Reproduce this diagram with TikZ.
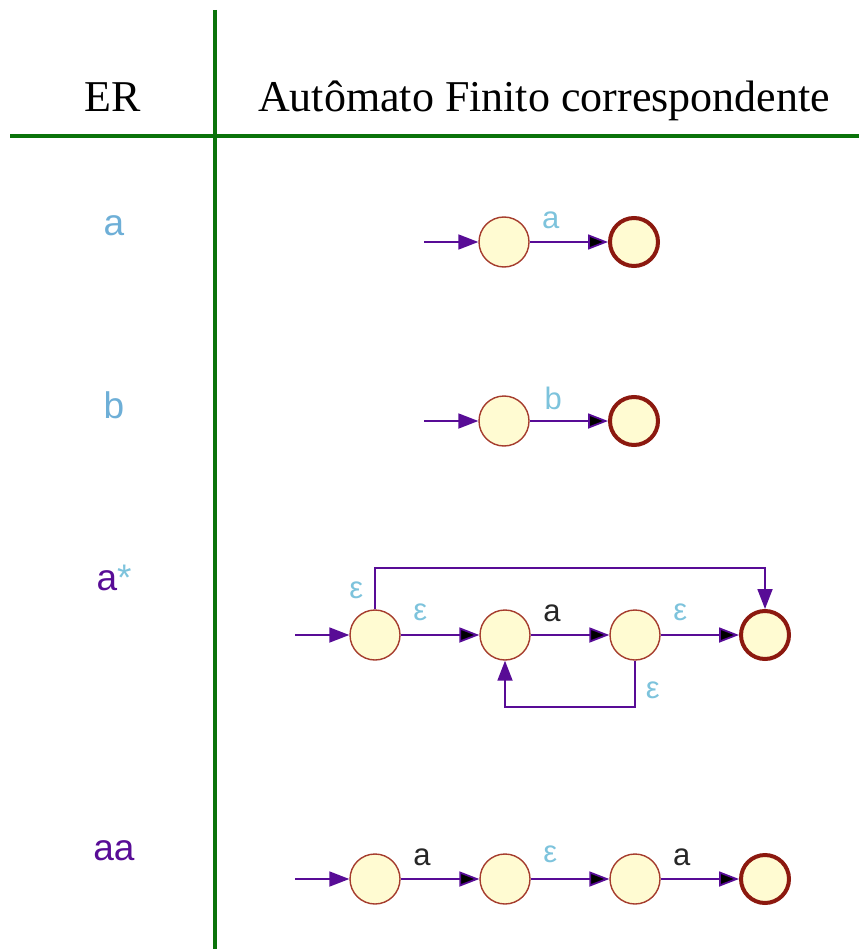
\documentclass[tikz,border=0pt]{standalone}
\usepackage{fontspec}
\setmainfont{Liberation Serif}
\newfontfamily\labelfont{Liberation Sans}
\usetikzlibrary{automata, positioning, arrows.meta}
\definecolor{edgepurple}{RGB}{88,12,150}
\definecolor{lightblue}{RGB}{125,195,220}
\definecolor{erblue}{RGB}{110,175,215}
\definecolor{statefill}{RGB}{255,251,210}
\definecolor{stateline}{RGB}{165,60,45}
\definecolor{finalline}{RGB}{140,25,15}
\definecolor{rulegreen}{RGB}{10,115,10}
\tikzset{
  -{Triangle[length=20pt, width=15pt]},
  node distance=130pt,
  every state/.style={draw=stateline, fill=statefill, line width=1.4pt,
                      minimum size=50pt, inner sep=0pt},
  finalstate/.style={state, draw=finalline, line width=4pt, minimum size=48pt},
  initial text=,
  initial distance=54pt,
  every initial by arrow/.style={draw=edgepurple, line width=1.8pt,
                                 -{Triangle[length=20pt, width=15pt]}},
  trans/.style={draw=edgepurple, line width=1.8pt, -{Triangle[length=20pt, width=15pt]}},
  lbl/.style={text=lightblue, font=\labelfont\fontsize{31}{35}\selectfont, inner sep=2pt},
  blk/.style={lbl, text=black!85},
  er/.style={font=\labelfont\fontsize{37}{44}\selectfont, anchor=base},
  head/.style={font=\fontsize{44}{50}\selectfont, anchor=base},
  rule/.style={-, draw=rulegreen, line width=3.5pt},
}

\begin{document}
\begin{tikzpicture}[x=1pt, y=-1pt]
  \useasboundingbox (0,0) rectangle (859,949);

  % table lines and header
  \draw[rule] (215,10) -- (215,949);
  \draw[rule] (10,136) -- (859,136);
  \node[head] (er)   at (113,112) {ER};
  \node[head] (afnd) at (544,112) {Autômato Finito correspondente};

  % a
  \node[er, text=erblue] (era) at (114,236) {a};
  \node[state,initial]     (a1) at (504,242) {};
  \node[finalstate,right of=a1] (a2) {};
  \draw[trans] (a1) edge node[lbl, pos=.27, above=10pt] {a} (a2);

  % b
  \node[er, text=erblue] (erb) at (114,418) {b};
  \node[state,initial]     (b1) at (504,421) {};
  \node[finalstate,right of=b1] (b2) {};
  \draw[trans] (b1) edge node[lbl, pos=.3, above=8pt] {b} (b2);

  % a*
  \node[er, text=edgepurple] (erst) at (114,590) {a\textcolor{lightblue}{*}};
  \node[state,initial]     (s1) at (375,635) {};
  \node[state,right of=s1] (s2) {};
  \node[state,right of=s2] (s3) {};
  \node[finalstate,right of=s3] (s4) {};
  \draw[trans] (s1) edge node[lbl, pos=.25, above=11pt] {ε} (s2)
               (s2) edge node[blk, pos=.27, above=10pt] {a} (s3)
               (s3) edge node[lbl, pos=.25, above=11pt] {ε} (s4);
  \draw[trans] (s1) -- node[lbl, pos=.45, left=9pt] {ε} ++(0,-67) -| (s4);
  \draw[trans] (s3) -- node[lbl, pos=.65, right=8pt] {ε} ++(0,72) -| (s2);

  % aa
  \node[er, text=edgepurple] (eraa) at (114,860) {aa};
  \node[state,initial]     (t1) at (375,879) {};
  \node[state,right of=t1] (t2) {};
  \node[state,right of=t2] (t3) {};
  \node[finalstate,right of=t3] (t4) {};
  \draw[trans] (t1) edge node[blk, pos=.27, above=10pt] {a} (t2)
               (t2) edge node[lbl, pos=.25, above=13pt] {ε} (t3)
               (t3) edge node[blk, pos=.27, above=10pt] {a} (t4);
\end{tikzpicture}
\end{document}
